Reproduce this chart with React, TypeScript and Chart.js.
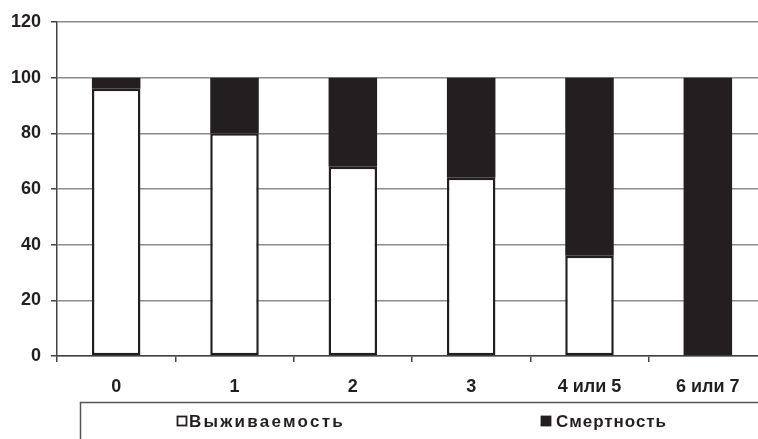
import React, { useEffect, useRef } from "react";
import { Chart, registerables } from "chart.js";

Chart.register(...registerables);

const categories = ["0", "1", "2", "3", "4 или 5", "6 или 7"];
const survival = [96, 80, 68, 64, 36, 0];
const mortality = [4, 20, 32, 36, 64, 100];
const yTicks = [0, 20, 40, 60, 80, 100, 120];
const seriesNames = ["Выживаемость", "Смертность"];

const INK = "#231f20";
const FONT = "Liberation Sans, Arial, sans-serif";

const legendPlugin = {
  id: "boxLegend",
  afterDraw(chart: any) {
    const ctx = chart.ctx as CanvasRenderingContext2D;
    ctx.save();
    ctx.strokeStyle = "#555";
    ctx.lineWidth = 1.5;
    ctx.strokeRect(80.5, 402.5, 760, 80);
    ctx.font = `bold 17px ${FONT}`;
    ctx.textBaseline = "alphabetic";
    ctx.fillStyle = INK;
    const items = [
      { x: 177, name: seriesNames[0], fill: "#ffffff", tx: 189, target: 156 },
      { x: 541, name: seriesNames[1], fill: INK, tx: 556, target: 111 },
    ];
    for (const it of items) {
      ctx.fillStyle = it.fill;
      ctx.fillRect(it.x, 416, 10, 10);
      ctx.strokeStyle = INK;
      ctx.lineWidth = 1.8;
      ctx.strokeRect(it.x + 0.5, 416.5, 9, 9);
      ctx.fillStyle = INK;
      const w = ctx.measureText(it.name).width;
      const n = it.name.length;
      const sp = Math.max(0, (it.target - w) / n);
      (ctx as any).letterSpacing = `${sp}px`;
      ctx.fillText(it.name, it.tx, 427);
      (ctx as any).letterSpacing = "0px";
    }
    ctx.restore();
  },
};

export default function App() {
  const ref = useRef<HTMLCanvasElement | null>(null);
  useEffect(() => {
    document.body.style.margin = "0";
    document.body.style.overflow = "hidden";
    const canvas = ref.current!;
    const chart = new Chart(canvas, {
      type: "bar",
      data: {
        labels: categories,
        datasets: [
          {
            label: seriesNames[0],
            data: survival,
            backgroundColor: "#ffffff",
            borderColor: INK,
            borderWidth: 2.5,
            borderSkipped: false,
            barPercentage: 0.41,
            categoryPercentage: 1,
          },
          {
            label: seriesNames[1],
            data: mortality,
            backgroundColor: INK,
            borderColor: INK,
            borderWidth: 0,
            barPercentage: 0.41,
            categoryPercentage: 1,
          },
        ],
      },
      options: {
        animation: false,
        responsive: false,
        layout: { padding: { top: 22, right: 33, left: 0, bottom: 0 } },
        plugins: { legend: { display: false }, tooltip: { enabled: false } },
        scales: {
          x: {
            stacked: true,
            offset: true,
            grid: {
              offset: true,
              drawOnChartArea: false,
              drawTicks: true,
              tickLength: 6,
              tickColor: "#444",
              lineWidth: 1.5,
            },
            border: { color: "#444", width: 1.5 },
            ticks: { font: { family: FONT, size: 18, weight: "bold" }, color: INK, padding: 14 },
            afterFit: (s: any) => {
              s.height = 83;
            },
          },
          y: {
            stacked: true,
            min: 0,
            max: 120,
            afterBuildTicks: (s: any) => {
              s.ticks = yTicks.map((v) => ({ value: v }));
            },
            ticks: { font: { family: FONT, size: 18, weight: "bold" }, color: INK, padding: 10 },
            grid: { color: "#8c8c8c", lineWidth: 1.5, tickColor: "#444", tickLength: 6 },
            border: { color: "#444", width: 1.5 },
            afterFit: (s: any) => {
              s.width = 57;
            },
          },
        },
      },
      plugins: [legendPlugin],
    });
    return () => chart.destroy();
  }, []);
  return (
    <div style={{ position: "fixed", left: 0, top: 0, width: 758, height: 439, overflow: "hidden", background: "#fff" }}>
      <canvas ref={ref} width={800} height={439} style={{ width: 800, height: 439, display: "block" }} />
    </div>
  );
}
